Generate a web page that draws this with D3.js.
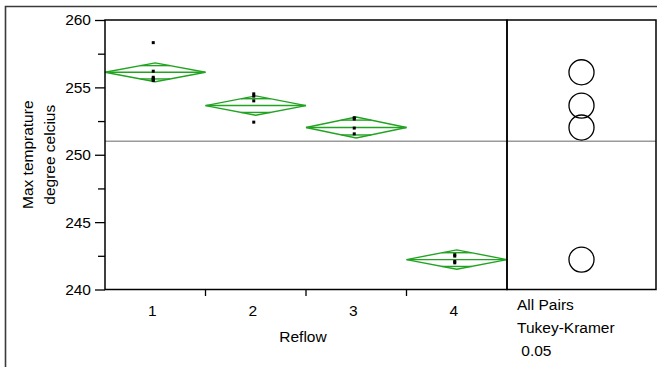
<!DOCTYPE html>
<html>
<head>
<meta charset="utf-8">
<script src="https://cdn.jsdelivr.net/npm/d3@7"></script>
<style>
  html, body { margin: 0; padding: 0; background: #fff; }
  svg { display: block; }
  text { font-family: "Liberation Sans", Arial, sans-serif; fill: #000; }
</style>
</head>
<body>
<svg id="chart" width="657" height="367"></svg>
<script>
// ---- data ----
const categories = ["1", "2", "3", "4"];
const groupMeans = [256.12, 253.65, 252.02, 242.22];
const ciHalfWidth = [0.70, 0.72, 0.78, 0.72];
const comparisonRadius = 0.93;
const grandMean = 251.0;
const obsGroup = ["1", "1", "1", "1", "1", "1",
                  "2", "2", "2", "2",
                  "3", "3", "3", "3",
                  "4", "4", "4", "4"];
const obsValue = [258.32, 256.2, 255.75, 255.65, 255.58, 255.5,
                  254.52, 254.35, 254.0, 252.42,
                  252.75, 252.65, 251.98, 251.55,
                  242.58, 242.48, 242.08, 241.98];
const yMajorTicks = [240, 245, 250, 255, 260];
const yMinorTicks = [242.5, 247.5, 252.5, 257.5];
const yTitleLines = ["Max temprature", "degree celcius"];
const xTitle = "Reflow";
const testLabels = ["All Pairs", "Tukey-Kramer", " 0.05"];

// ---- layout ----
const svg = d3.select("#chart");
const plotL = 105, plotR = 507, plotT = 20, plotB = 289.5;
const panelR = 656;
const green = "#22a322";
const fs = 15.5;

const x = d3.scaleBand().domain(categories).range([plotL, plotR]).padding(0);
const y = d3.scaleLinear().domain([240, 260]).range([plotB, plotT]);

// outer frame
svg.append("path")
  .attr("d", `M5.5,367 L5.5,6.5 L657,6.5`)
  .attr("fill", "none").attr("stroke", "#3a3a3a").attr("stroke-width", 1.6);

// grand mean line across both panels
svg.append("line")
  .attr("x1", plotL).attr("x2", panelR)
  .attr("y1", y(grandMean)).attr("y2", y(grandMean))
  .attr("stroke", "#9a9a9a").attr("stroke-width", 1.5);

// diamonds
const line = d3.line();
categories.forEach((c, i) => {
  const x0 = x(c), x1 = x(c) + x.bandwidth(), xc = x(c) + x.bandwidth() / 2;
  const m = groupMeans[i], h = ciHalfWidth[i];
  const g = svg.append("g").attr("fill", "none").attr("stroke", green).attr("stroke-width", 1.4);
  g.append("path").attr("d", line([[x0, y(m)], [xc, y(m + h)], [x1, y(m)], [xc, y(m - h)]]) + "Z");
  g.append("line").attr("x1", x0).attr("x2", x1).attr("y1", y(m)).attr("y2", y(m));
  const ov = h / Math.SQRT2;
  const hw = (x.bandwidth() / 2) * (1 - ov / h);
  [m + ov, m - ov].forEach(v => {
    g.append("line").attr("x1", xc - hw).attr("x2", xc + hw).attr("y1", y(v)).attr("y2", y(v));
  });
});

// observations
svg.append("g").selectAll("rect").data(obsValue).join("rect")
  .attr("x", (d, i) => x(obsGroup[i]) + x.bandwidth() / 2 - 3.5)
  .attr("y", d => y(d) - 1.5)
  .attr("width", 3).attr("height", 3)
  .attr("fill", "#000");

// plot frame
svg.append("rect")
  .attr("x", plotL).attr("y", plotT).attr("width", plotR - plotL).attr("height", plotB - plotT)
  .attr("fill", "none").attr("stroke", "#000").attr("stroke-width", 1.5);
// right panel frame
svg.append("rect")
  .attr("x", plotR).attr("y", plotT).attr("width", panelR - plotR).attr("height", plotB - plotT)
  .attr("fill", "none").attr("stroke", "#000").attr("stroke-width", 1.5);

// comparison circles
const cx = (plotR + panelR) / 2;
const rPx = Math.abs(y(0) - y(comparisonRadius));
svg.append("g").selectAll("circle").data(groupMeans).join("circle")
  .attr("cx", cx).attr("cy", d => y(d)).attr("r", rPx)
  .attr("fill", "none").attr("stroke", "#000").attr("stroke-width", 1.3);

// y axis
const yAxis = svg.append("g").attr("transform", `translate(${plotL},0)`)
  .call(d3.axisLeft(y).tickValues(yMajorTicks).tickSize(10).tickPadding(4).tickFormat(d3.format("d")));
yAxis.select(".domain").remove();
yAxis.selectAll("line").attr("stroke", "#000").attr("stroke-width", 1.3);
yAxis.selectAll("text").attr("font-size", fs).attr("font-family", "Liberation Sans, Arial, sans-serif").attr("fill", "#000");
const yMinor = svg.append("g").attr("transform", `translate(${plotL},0)`)
  .call(d3.axisLeft(y).tickValues(yMinorTicks).tickSize(7).tickFormat(""));
yMinor.select(".domain").remove();
yMinor.selectAll("line").attr("stroke", "#000").attr("stroke-width", 1.3);

// x axis: boundary ticks
const boundaries = categories.slice(1).map(c => x(c));
svg.append("g").selectAll("line").data(boundaries).join("line")
  .attr("x1", d => d).attr("x2", d => d).attr("y1", plotB).attr("y2", plotB + 6.5)
  .attr("stroke", "#000").attr("stroke-width", 1.3);
// x labels
const xAxis = svg.append("g").attr("transform", `translate(-3,${plotB})`)
  .call(d3.axisBottom(x).tickSize(0).tickPadding(15));
xAxis.select(".domain").remove();
xAxis.selectAll("text").attr("font-size", fs).attr("font-family", "Liberation Sans, Arial, sans-serif").attr("fill", "#000");

// titles
svg.append("text").attr("x", 303).attr("y", 342).attr("text-anchor", "middle")
  .attr("font-size", fs).text(xTitle);
yTitleLines.forEach((t, i) => {
  svg.append("text")
    .attr("transform", `translate(${33 + i * 22},${(plotT + plotB) / 2}) rotate(-90)`)
    .attr("text-anchor", "middle").attr("font-size", fs).text(t);
});
testLabels.forEach((t, i) => {
  svg.append("text").attr("x", 517).attr("y", 310 + i * 23)
    .attr("font-size", fs).style("white-space", "pre").text(t);
});
</script>
</body>
</html>
